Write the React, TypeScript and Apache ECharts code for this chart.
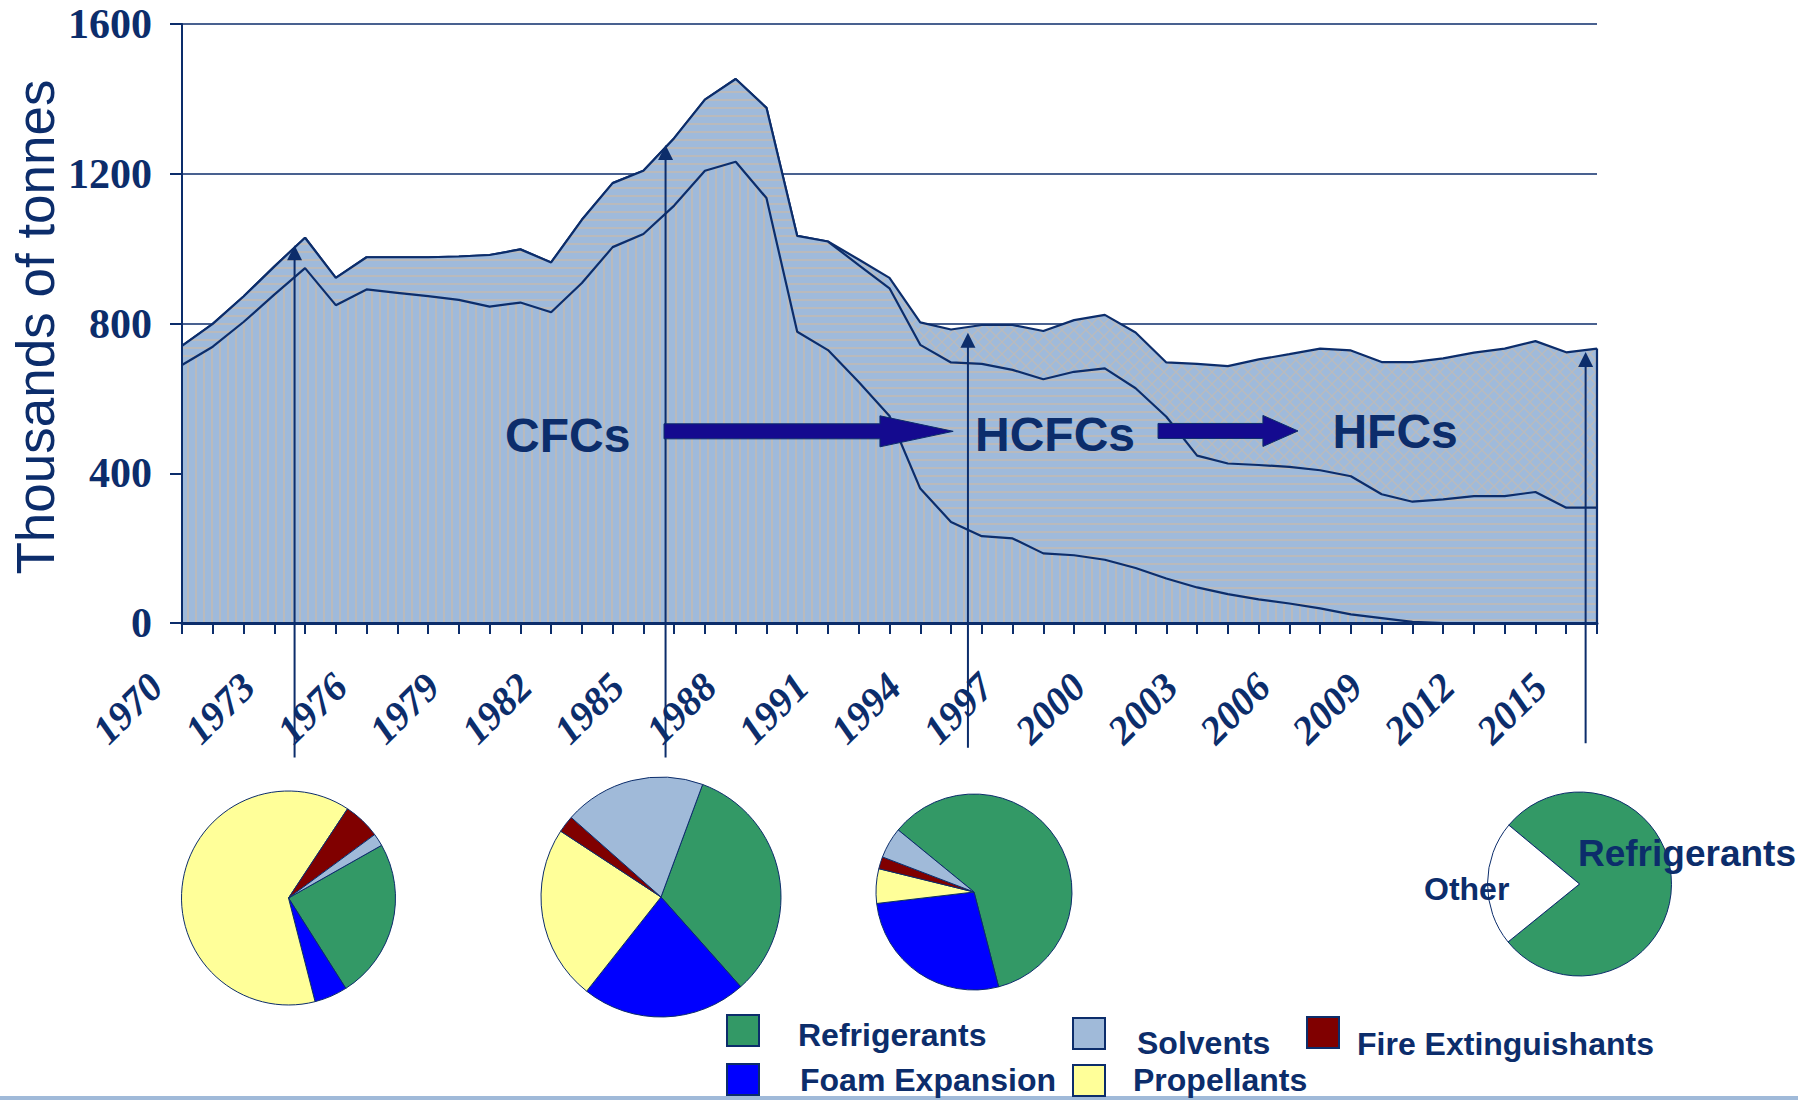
import React, { useEffect, useRef } from 'react';
import * as echarts from 'echarts';

// ---------------- data ----------------
const START_YEAR = 1970;
const END_YEAR = 2016;
const years: string[] = [];
for (let y = START_YEAR; y <= END_YEAR; y++) years.push(String(y));
const xTickLabels = ['1970', '1973', '1976', '1979', '1982', '1985', '1988', '1991', '1994', '1997', '2000', '2003', '2006', '2009', '2012', '2015'];
const yTickLabels = ['0', '400', '800', '1200', '1600'];

// thousands of tonnes, 1970..2016 (stacked components)
const cfc = [689, 738, 804, 877, 948, 849, 891, 882, 873, 863, 845, 856, 830, 908, 1004, 1039, 1115, 1208, 1232, 1135, 778, 729, 644, 553, 359, 270, 232, 226, 186, 181, 169, 147, 119, 95, 77, 63, 52, 39, 23, 13, 3, 0, 0, 0, 0, 0, 0];
const hcfc = [51, 61, 68, 75, 81, 73, 86, 95, 104, 116, 138, 142, 133, 169, 171, 169, 180, 190, 221, 241, 256, 290, 312, 341, 384, 426, 460, 450, 465, 490, 511, 480, 432, 352, 349, 359, 365, 369, 369, 331, 321, 330, 339, 339, 350, 308, 308];
const hfc = [0, 0, 0, 0, 0, 0, 0, 0, 0, 0, 0, 0, 0, 0, 0, 0, 0, 0, 0, 0, 0, 0, 15, 28, 60, 88, 104, 120, 129, 138, 143, 149, 145, 245, 260, 282, 301, 325, 336, 353, 373, 377, 383, 394, 403, 415, 425];

const groupNames = ['CFCs', 'HCFCs', 'HFCs'];
const groupLabelAt = [[1980.5, 500], [1995.78, 503], [2007.4, 511]];

// vertical pointer arrows: [year, top value, bottom value]
const pointerArrows = [[1973.66, 1009, -359], [1985.72, 1277, -359], [1995.55, 775, -333], [2015.63, 724, -321]];
// transition block arrows: [from year, value, head start year, tip year]
const transitionArrows = [[1985.67, 512, 1992.69, 1995.07], [2001.73, 513, 2005.14, 2006.28]];

const pieCategories = ['Refrigerants', 'Foam Expansion', 'Propellants', 'Fire Extinguishants', 'Solvents'];
const pieA = [24.2, 5.0, 63.3, 5.6, 1.9];
const pieB = [32.8, 22.2, 23.6, 2.3, 19.1];
const pieC = [60.1, 27.2, 5.7, 2.0, 5.1];
const pieDCategories = ['Refrigerants', 'Other'];
const pieD = [78.1, 21.9];

const legendOrder = ['Refrigerants', 'Foam Expansion', 'Solvents', 'Propellants', 'Fire Extinguishants'];

// ---------------- styles ----------------
const NAVY = '#0c2d6b';
const ARROW_FILL = '#140a8f';
const BASE_BLUE = '#9fbadb';
const STRIPE = '#b9babd';
const SANS = '"Liberation Sans", Arial, sans-serif';
const SERIF = '"Liberation Serif", "Times New Roman", serif';

const categoryColor: Record<string, string> = {
  'Refrigerants': '#339966',
  'Foam Expansion': '#0000ff',
  'Propellants': '#ffff99',
  'Fire Extinguishants': '#800000',
  'Solvents': '#a0bad9',
  'Other': '#ffffff',
};

// layout of legend items (pixels)
const legendLayout: Record<string, { bx: number; by: number; tx: number; ty: number }> = {
  'Refrigerants': { bx: 727, by: 1015, tx: 798, ty: 1035 },
  'Foam Expansion': { bx: 727, by: 1064, tx: 800, ty: 1080 },
  'Solvents': { bx: 1073, by: 1018, tx: 1137, ty: 1043 },
  'Propellants': { bx: 1073, by: 1065, tx: 1133, ty: 1080 },
  'Fire Extinguishants': { bx: 1307, by: 1017, tx: 1357, ty: 1044 },
};

function makePattern(kind: string) {
  const size = kind === 'x' ? 12 : 8;
  const c = document.createElement('canvas');
  c.width = size;
  c.height = size;
  const ctx = c.getContext('2d') as CanvasRenderingContext2D;
  ctx.fillStyle = BASE_BLUE;
  ctx.fillRect(0, 0, size, size);
  ctx.fillStyle = STRIPE;
  if (kind === 'v') {
    ctx.fillRect(3, 0, 2, size);
  } else if (kind === 'h') {
    ctx.fillRect(0, 3, size, 2);
  } else {
    ctx.strokeStyle = STRIPE;
    ctx.lineWidth = 1.4;
    ctx.beginPath();
    ctx.moveTo(0, 0);
    ctx.lineTo(size, size);
    ctx.moveTo(size, 0);
    ctx.lineTo(0, size);
    ctx.stroke();
  }
  return { image: c.toDataURL(), repeat: 'repeat', imageWidth: size, imageHeight: size };
}

function areaSeries(name: string, values: number[], pattern: any, z: number) {
  return {
    name,
    type: 'line',
    stack: 'total',
    xAxisIndex: 0,
    yAxisIndex: 0,
    data: values,
    symbol: 'none',
    showSymbol: false,
    silent: true,
    z,
    lineStyle: { color: NAVY, width: 2.2 },
    areaStyle: { color: pattern, opacity: 1 },
    emphasis: { disabled: true },
  };
}

function pieSeries(name: string, cats: string[], values: number[], center: number[], radius: number, startAngle: number) {
  return {
    name,
    type: 'pie',
    center,
    radius,
    startAngle,
    clockwise: true,
    silent: true,
    z: 5,
    label: { show: false },
    labelLine: { show: false },
    emphasis: { disabled: true },
    itemStyle: { borderColor: NAVY, borderWidth: 1 },
    data: cats.map((c, i) => ({ name: c, value: values[i], itemStyle: { color: categoryColor[c] } })),
  };
}

function buildOption() {
  const last = cfc.length - 1;
  const total2016 = cfc[last] + hcfc[last] + hfc[last];
  const graphics: any[] = [];
  graphics.push({
    type: 'text', x: 35.6, y: 327, rotation: Math.PI / 2, z: 100,
    style: { text: 'Thousands of tonnes', fill: NAVY, font: `normal 53px ${SANS}`, align: 'center', verticalAlign: 'middle', textAlign: 'center', textVerticalAlign: 'middle' },
  });
  legendOrder.forEach((name) => {
    const l = legendLayout[name];
    graphics.push({ type: 'rect', z: 100, shape: { x: l.bx, y: l.by, width: 32, height: 31 }, style: { fill: categoryColor[name], stroke: NAVY, lineWidth: 2 } });
    graphics.push({ type: 'text', x: l.tx, y: l.ty, z: 100, style: { text: name, fill: NAVY, font: `bold 32px ${SANS}`, align: 'left', verticalAlign: 'middle', textAlign: 'left', textVerticalAlign: 'middle' } });
  });
  graphics.push({ type: 'text', x: 1424, y: 889, z: 100, style: { text: 'Other', fill: NAVY, font: `bold 32px ${SANS}`, align: 'left', verticalAlign: 'middle', textAlign: 'left', textVerticalAlign: 'middle' } });
  graphics.push({ type: 'text', x: 1578, y: 853, z: 100, style: { text: 'Refrigerants', fill: NAVY, font: `bold 37px ${SANS}`, align: 'left', verticalAlign: 'middle', textAlign: 'left', textVerticalAlign: 'middle' } });
  graphics.push({ type: 'rect', z: 90, shape: { x: 0, y: 1096, width: 1798, height: 4 }, style: { fill: '#a0bad9' } });

  return {
    animation: false,
    backgroundColor: '#ffffff',
    grid: { left: 182, top: 24, width: 1415, height: 599, containLabel: false },
    xAxis: [
      {
        type: 'category', data: years, boundaryGap: false, z: 10,
        axisLine: { show: true, onZero: false, lineStyle: { color: NAVY, width: 3 } },
        axisTick: { show: true, interval: 0, length: 11, lineStyle: { color: NAVY, width: 2 } },
        splitLine: { show: false },
        axisLabel: {
          interval: (idx: number, value: string) => xTickLabels.includes(value),
          rotate: 45, margin: 31, padding: [0, 37, 0, 0], color: NAVY,
          fontFamily: SERIF, fontWeight: 'bold', fontStyle: 'italic', fontSize: 40,
        },
      },
      { type: 'value', min: START_YEAR, max: END_YEAR, show: false },
    ],
    yAxis: [
      {
        type: 'value', min: 0, max: 1600, interval: 400, z: 0,
        axisLine: { show: false }, axisTick: { show: false }, axisLabel: { show: false },
        splitLine: { show: true, lineStyle: { color: NAVY, width: 1.5 } },
      },
      {
        type: 'value', min: 0, max: 1600, interval: 400, position: 'left', z: 10,
        axisLine: { show: true, onZero: false, lineStyle: { color: NAVY, width: 2 } },
        axisTick: { show: true, length: 12, lineStyle: { color: NAVY, width: 2 } },
        splitLine: { show: false },
        axisLabel: {
          margin: 30, color: NAVY, fontFamily: SERIF, fontWeight: 'bold', fontSize: 42,
          formatter: (v: number) => (yTickLabels.includes(String(v)) ? String(v) : ''),
        },
      },
    ],
    series: [
      areaSeries('CFCs', cfc, makePattern('v'), 4),
      areaSeries('HCFCs', hcfc, makePattern('h'), 3),
      areaSeries('HFCs', hfc, makePattern('x'), 2),
      {
        type: 'custom', name: 'edge', coordinateSystem: 'cartesian2d', xAxisIndex: 1, yAxisIndex: 0,
        silent: true, clip: false, z: 6,
        data: [[END_YEAR, total2016]],
        renderItem: (params: any, api: any) => {
          const p0 = api.coord([api.value(0), 0]);
          const p1 = api.coord([api.value(0), api.value(1)]);
          return { type: 'line', shape: { x1: p0[0], y1: p0[1], x2: p1[0], y2: p1[1] }, style: { stroke: NAVY, lineWidth: 2.2 } };
        },
      },
      {
        type: 'custom', name: 'pointers', coordinateSystem: 'cartesian2d', xAxisIndex: 1, yAxisIndex: 0,
        silent: true, clip: false, z: 20,
        data: pointerArrows,
        renderItem: (params: any, api: any) => {
          const x = api.value(0);
          const pt = api.coord([x, api.value(1)]);
          const pb = api.coord([x, api.value(2)]);
          const hh = 15;
          const hw = 7.5;
          return {
            type: 'group',
            children: [
              { type: 'line', shape: { x1: pt[0], y1: pt[1] + hh - 2, x2: pb[0], y2: pb[1] }, style: { stroke: NAVY, lineWidth: 2 } },
              { type: 'polygon', shape: { points: [[pt[0], pt[1]], [pt[0] - hw, pt[1] + hh], [pt[0] + hw, pt[1] + hh]] }, style: { fill: NAVY } },
            ],
          };
        },
      },
      {
        type: 'custom', name: 'transitions', coordinateSystem: 'cartesian2d', xAxisIndex: 1, yAxisIndex: 0,
        silent: true, clip: false, z: 21,
        data: transitionArrows,
        renderItem: (params: any, api: any) => {
          const y = api.value(1);
          const p0 = api.coord([api.value(0), y]);
          const ph = api.coord([api.value(2), y]);
          const pt = api.coord([api.value(3), y]);
          const t = 7.5;
          const hh = 15.5;
          const cy = p0[1];
          return {
            type: 'polygon',
            shape: { points: [[p0[0], cy - t], [ph[0], cy - t], [ph[0], cy - hh], [pt[0], cy], [ph[0], cy + hh], [ph[0], cy + t], [p0[0], cy + t]] },
            style: { fill: ARROW_FILL, stroke: NAVY, lineWidth: 1 },
          };
        },
      },
      {
        type: 'custom', name: 'groupLabels', coordinateSystem: 'cartesian2d', xAxisIndex: 1, yAxisIndex: 0,
        silent: true, clip: false, z: 22,
        data: groupLabelAt.map((p, i) => [p[0], p[1], i]),
        renderItem: (params: any, api: any) => {
          const p = api.coord([api.value(0), api.value(1)]);
          return {
            type: 'text', x: p[0], y: p[1],
            style: { text: groupNames[api.value(2)], fill: NAVY, font: `bold 48px ${SANS}`, align: 'left', verticalAlign: 'middle', textAlign: 'left', textVerticalAlign: 'middle' },
          };
        },
      },
      pieSeries('pieA', pieCategories, pieA, [288.5, 898], 107, 29.5),
      pieSeries('pieB', pieCategories, pieB, [661, 897], 120, 69.7),
      pieSeries('pieC', pieCategories, pieC, [974, 892], 98, 140.7),
      pieSeries('pieD', pieDCategories, pieD, [1579.5, 884], 92, 140.2),
    ],
    graphic: graphics,
  };
}

export default function App() {
  const ref = useRef<HTMLDivElement>(null);
  useEffect(() => {
    if (!ref.current) return;
    const chart = echarts.init(ref.current, null, { renderer: 'svg' });
    chart.setOption(buildOption() as any);
    return () => {
      chart.dispose();
    };
  }, []);
  return (
    <div
      ref={ref}
      style={{ position: 'fixed', left: 0, top: 0, width: 1798, height: 1100, background: '#ffffff' }}
    />
  );
}
